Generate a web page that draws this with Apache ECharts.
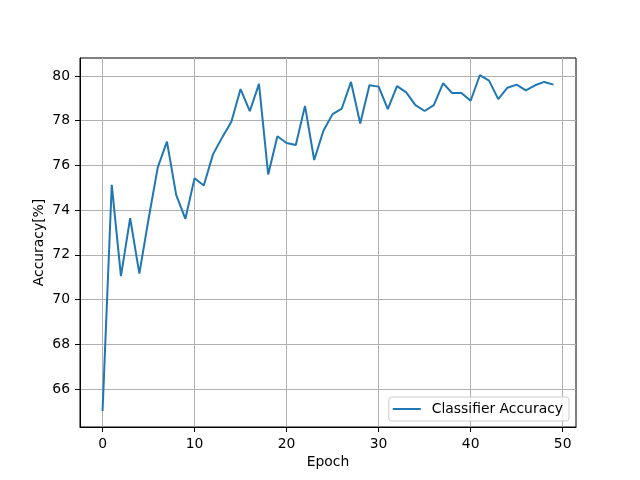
<!DOCTYPE html>
<html>
<head>
<meta charset="utf-8">
<script src="https://cdn.jsdelivr.net/npm/echarts@6/dist/echarts.min.js"></script>
<style>
  html, body { margin: 0; padding: 0; background: #fff; }
  #chart { width: 640px; height: 480px; }
</style>
</head>
<body>
<div id="chart"></div>
<script>
// DATA
const epochs = Array.from({ length: 50 }, (_, i) => i);
const accuracy = [
    65.02, 75.13, 71.05, 73.64, 71.16, 73.6, 75.91, 77.06, 74.68, 73.61,
    75.42, 75.10, 76.49, 77.25, 77.95, 79.41, 78.42, 79.64, 75.59, 77.30,
    77.00, 76.91, 78.66, 76.24, 77.55, 78.29, 78.54, 79.73, 77.87, 79.58,
    79.52, 78.51, 79.54, 79.26, 78.69, 78.43, 78.69, 79.67, 79.23, 79.24,
    78.89, 80.03, 79.79, 78.96, 79.47, 79.61, 79.35, 79.58, 79.73, 79.61
];
const xTicks = [0, 10, 20, 30, 40, 50];
const yTicks = [66, 68, 70, 72, 74, 76, 78, 80];

const chart = echarts.init(document.querySelector("#chart"));

const gridLine = { show: true, lineStyle: { color: '#b0b0b0', width: 1 } };
const font = 'DejaVu Sans';

const option = {
    animation: false,
    backgroundColor: '#fff',
    textStyle: { fontFamily: font },
    grid: {
        left: 80,
        right: 64,
        top: 58,
        bottom: 53,
        show: true,
        borderColor: '#000',
        borderWidth: 1,
        containLabel: false
    },
    legend: {
        right: 71,
        bottom: 59,
        orient: 'vertical',
        padding: [5, 6, 5, 4],
        itemWidth: 28,
        itemHeight: 2,
        icon: 'rect',
        borderColor: '#cccccc',
        borderWidth: 1,
        borderRadius: 3,
        backgroundColor: 'rgba(255,255,255,0.8)',
        textStyle: { fontFamily: font, fontSize: 13.9, color: '#000', padding: [1, 0, 1, 6] },
        data: ['Classifier Accuracy']
    },
    xAxis: {
        type: 'value',
        min: -2.45,
        max: 51.45,
        name: 'Epoch',
        nameLocation: 'middle',
        nameGap: 28,
        nameMoveOverlap: false,
        nameTextStyle: { fontFamily: font, fontSize: 13.9, color: '#000' },
        axisLine: { show: true, onZero: false, lineStyle: { color: '#000', width: 1 } },
        axisTick: { show: true, length: 5, customValues: xTicks, lineStyle: { color: '#000' } },
        axisLabel: { customValues: xTicks, margin: 10, fontFamily: font, fontSize: 13.9, color: '#000' },
        splitLine: gridLine
    },
    yAxis: {
        type: 'value',
        min: 64.3,
        max: 80.8,
        name: 'Accuracy[%]',
        nameLocation: 'middle',
        nameGap: 34,
        nameMoveOverlap: false,
        nameTextStyle: { fontFamily: font, fontSize: 13.9, color: '#000' },
        axisLine: { show: true, onZero: false, lineStyle: { color: '#000', width: 1 } },
        axisTick: { show: true, length: 5, customValues: yTicks, lineStyle: { color: '#000' } },
        axisLabel: { customValues: yTicks, margin: 10, fontFamily: font, fontSize: 13.9, color: '#000' },
        splitLine: gridLine
    },
    series: [
        {
            name: 'Classifier Accuracy',
            type: 'line',
            showSymbol: false,
            symbol: 'none',
            color: '#1f77b4',
            lineStyle: { color: '#1f77b4', width: 2 },
            data: epochs.map((e, i) => [e, accuracy[i]])
        }
    ]
};

chart.setOption(option);
</script>
</body>
</html>
